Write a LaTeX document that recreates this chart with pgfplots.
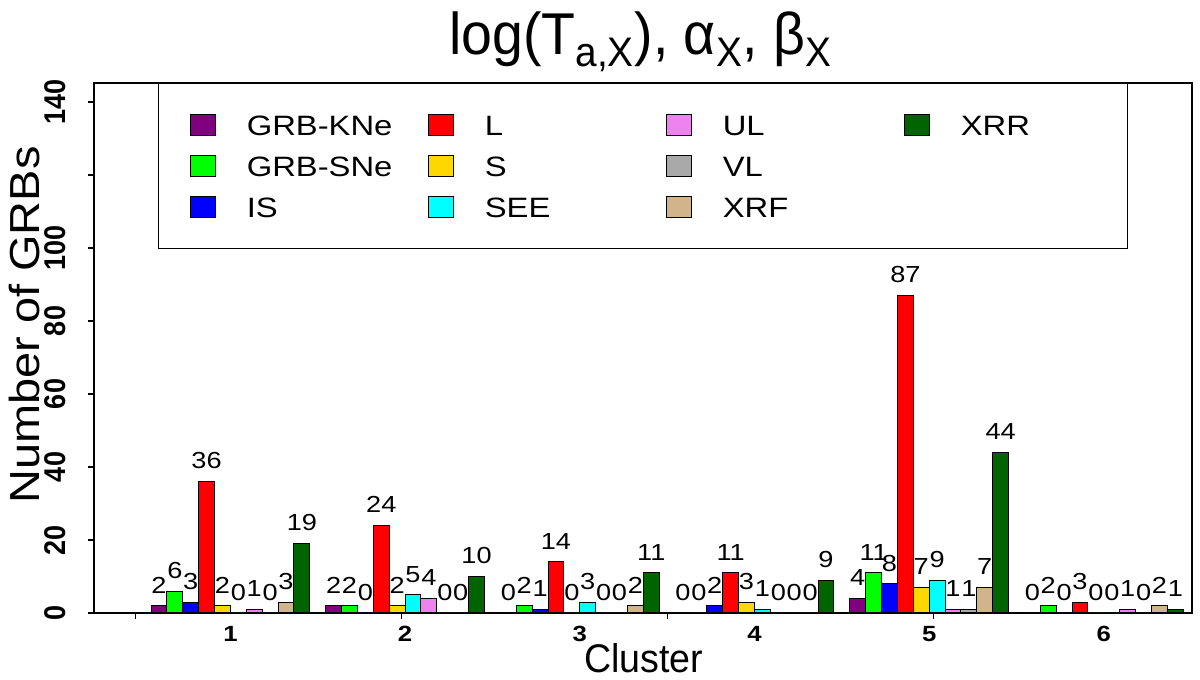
\documentclass[border=0pt]{standalone}
\usepackage{fontspec}
\setmainfont{Liberation Sans}
\newfontfamily\fA[FakeStretch=0.94]{Liberation Sans}
\newfontfamily\fAy[FakeStretch=1.117]{Liberation Sans}
\newfontfamily\fB[FakeStretch=1.17]{Liberation Sans}
\newfontfamily\fBy[FakeStretch=0.9]{Liberation Sans}
\usepackage{pgfplots}
\pgfplotsset{compat=1.18}
\definecolor{cKNe}{HTML}{800080}
\definecolor{cSNe}{HTML}{00FF00}
\definecolor{cIS}{HTML}{0000FF}
\definecolor{cL}{HTML}{FF0000}
\definecolor{cS}{HTML}{FFD700}
\definecolor{cSEE}{HTML}{00FFFF}
\definecolor{cUL}{HTML}{EE82EE}
\definecolor{cVL}{HTML}{A9A9A9}
\definecolor{cXRF}{HTML}{D2B48C}
\definecolor{cXRR}{HTML}{006400}
\pgfplotsset{
  mybar/.style={ybar, bar width=1, bar shift=0pt, draw=black, line width=0.5pt, fill=#1, forget plot,
    nodes near coords,
    every node near coord/.append style={font=\fB\fontsize{11.6}{14}\selectfont, inner sep=0pt, yshift=6pt, text=black}},
}
\begin{document}
\begin{tikzpicture}
\useasboundingbox (0,0) rectangle (600pt,340pt);
\begin{axis}[
  at={(47pt,33.5pt)}, anchor=south west,
  scale only axis, width=549pt, height=265pt,
  xmin=-2.59, xmax=66.55, ymin=0, ymax=145.2,
  /pgf/number format/assume math mode=true,
  axis line style={line width=0.6pt, black},
  tick style={line width=0.6pt, black},
  tick pos=left, tick align=outside, major tick length=3pt,
  xtick={0,16.75,33.5,50.25}, xticklabels={},
  extra x ticks={6,17,28,39,50,61},
  extra x tick labels={1,2,3,4,5,6},
  extra x tick style={major tick length=0pt},
  xticklabel style={font=\fB\bfseries\fontsize{11}{13}\selectfont, anchor=north, inner sep=0pt},
  xticklabel shift=6.5pt,
  ytick={0,20,40,60,80,100,120,140},
  yticklabels={0,20,40,60,80,100,,140},
  yticklabel style={font=\fBy\bfseries\fontsize{15}{18}\selectfont, rotate=90, anchor=south, inner sep=0pt},
  yticklabel shift=11pt,
  title={log(T\textsubscript{a,X}), α\textsubscript{X}, β\textsubscript{X}},
  title style={at={(axis description cs:0.498,1)}, anchor=base, yshift=8pt, font=\fA\fontsize{29.5}{34}\selectfont},
  xlabel={Cluster},
  xlabel style={at={(axis description cs:0.5005,0)}, anchor=base, yshift=-30pt, font=\fA\fontsize{20}{24}\selectfont},
  ylabel={Number of GRBs},
  ylabel style={at={(axis description cs:-0.0492,0.5434)}, anchor=base, font=\fAy\fontsize{21}{25}\selectfont},
  legend columns=4,
  legend cell align=left,
  legend image code/.code={\draw[#1, line width=0.5pt] (0pt,-5.25pt) rectangle (12.5pt,5.25pt);},
  legend style={at={(axis description cs:0.0583,1)}, anchor=north west,
    draw=black, line width=0.6pt, inner xsep=15.5pt, inner ysep=13pt,
    row sep=5pt, column sep=0pt,
    nodes={inner sep=0pt, text height=13pt, text depth=2.5pt},
    font=\fB\fontsize{14}{16}\selectfont},
]
\addplot[mybar=cKNe] coordinates {(1.5,2) (12.5,2) (23.5,0) (34.5,0) (45.5,4) (56.5,0)};
\addplot[mybar=cSNe] coordinates {(2.5,6) (13.5,2) (24.5,2) (35.5,0) (46.5,11) (57.5,2)};
\addplot[mybar=cIS] coordinates {(3.5,3) (14.5,0) (25.5,1) (36.5,2) (47.5,8) (58.5,0)};
\addplot[mybar=cL] coordinates {(4.5,36) (15.5,24) (26.5,14) (37.5,11) (48.5,87) (59.5,3)};
\addplot[mybar=cS] coordinates {(5.5,2) (16.5,2) (27.5,0) (38.5,3) (49.5,7) (60.5,0)};
\addplot[mybar=cSEE] coordinates {(6.5,0) (17.5,5) (28.5,3) (39.5,1) (50.5,9) (61.5,0)};
\addplot[mybar=cUL] coordinates {(7.5,1) (18.5,4) (29.5,0) (40.5,0) (51.5,1) (62.5,1)};
\addplot[mybar=cVL] coordinates {(8.5,0) (19.5,0) (30.5,0) (41.5,0) (52.5,1) (63.5,0)};
\addplot[mybar=cXRF] coordinates {(9.5,3) (20.5,0) (31.5,2) (42.5,0) (53.5,7) (64.5,2)};
\addplot[mybar=cXRR] coordinates {(10.5,19) (21.5,10) (32.5,11) (43.5,9) (54.5,44) (65.5,1)};
% legend, row-wise order
\addlegendimage{fill=cKNe, draw=black}\addlegendentry{\hspace*{15.6pt}\makebox[90.4pt][l]{GRB-KNe}}
\addlegendimage{fill=cL, draw=black}\addlegendentry{\hspace*{15.6pt}\makebox[90.4pt][l]{L}}
\addlegendimage{fill=cUL, draw=black}\addlegendentry{\hspace*{15.6pt}\makebox[90.4pt][l]{UL}}
\addlegendimage{fill=cXRR, draw=black}\addlegendentry{\hspace*{15.6pt}\makebox[68pt][l]{XRR}}
\addlegendimage{fill=cSNe, draw=black}\addlegendentry{\hspace*{15.6pt}\makebox[90.4pt][l]{GRB-SNe}}
\addlegendimage{fill=cS, draw=black}\addlegendentry{\hspace*{15.6pt}\makebox[90.4pt][l]{S}}
\addlegendimage{fill=cVL, draw=black}\addlegendentry{\hspace*{15.6pt}\makebox[90.4pt][l]{VL}}
\addlegendimage{empty legend}\addlegendentry{}
\addlegendimage{fill=cIS, draw=black}\addlegendentry{\hspace*{15.6pt}\makebox[90.4pt][l]{IS}}
\addlegendimage{fill=cSEE, draw=black}\addlegendentry{\hspace*{15.6pt}\makebox[90.4pt][l]{SEE}}
\addlegendimage{fill=cXRF, draw=black}\addlegendentry{\hspace*{15.6pt}\makebox[90.4pt][l]{XRF}}
\end{axis}
\end{tikzpicture}
\end{document}
